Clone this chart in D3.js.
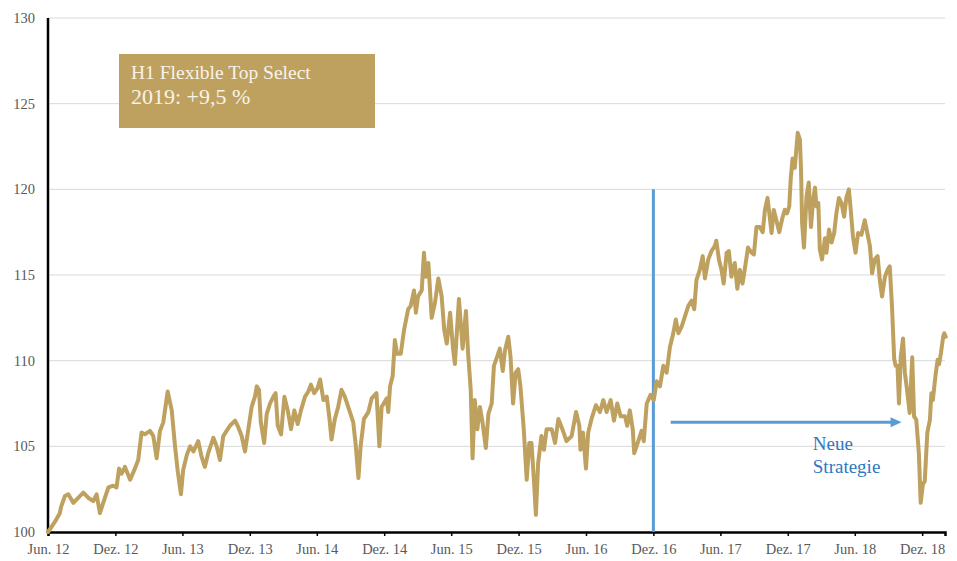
<!DOCTYPE html>
<html>
<head>
<meta charset="utf-8">
<script src="https://cdn.jsdelivr.net/npm/d3@7"></script>
<style>
  body { margin: 0; background: #fff; }
  svg { display: block; }
</style>
</head>
<body>
<div id="chart"></div>
<script>
// fund price, indexed to 100 at Jun 2012
const dates = [
  "2012-06-01","2012-06-20","2012-07-03","2012-07-07","2012-07-17","2012-07-26","2012-08-09","2012-08-18",
  "2012-09-05","2012-09-18","2012-10-02","2012-10-11","2012-10-20","2012-10-29","2012-11-12","2012-11-25",
  "2012-12-04","2012-12-11","2012-12-18","2012-12-27","2013-01-10","2013-01-23","2013-02-01","2013-02-10",
  "2013-02-19","2013-03-05","2013-03-14","2013-03-23","2013-04-01","2013-04-10","2013-04-22","2013-05-03",
  "2013-05-12","2013-05-19","2013-05-28","2013-06-03","2013-06-13","2013-06-22","2013-07-01","2013-07-14",
  "2013-07-23","2013-08-01","2013-08-10","2013-08-24","2013-09-02","2013-09-11","2013-09-20","2013-09-29",
  "2013-10-08","2013-10-22","2013-10-31","2013-11-09","2013-11-18","2013-11-27","2013-12-06","2013-12-15",
  "2013-12-20","2013-12-26","2013-12-31","2014-01-09","2014-01-16","2014-01-25","2014-02-03","2014-02-09",
  "2014-02-15","2014-02-24","2014-03-05","2014-03-14","2014-03-23","2014-04-01","2014-04-10","2014-04-19",
  "2014-04-30","2014-05-09","2014-05-16","2014-05-25","2014-06-03","2014-06-10","2014-06-19","2014-06-28",
  "2014-07-05","2014-07-11","2014-07-20","2014-07-29","2014-08-07","2014-08-16","2014-08-30","2014-09-08",
  "2014-09-15","2014-09-22","2014-09-28","2014-10-07","2014-10-19","2014-10-28","2014-11-10","2014-11-18",
  "2014-11-24","2014-12-08","2014-12-12","2014-12-17","2014-12-24","2014-12-30","2015-01-05","2015-01-15",
  "2015-01-24","2015-02-04","2015-02-11","2015-02-20","2015-02-25","2015-03-03","2015-03-13","2015-03-19",
  "2015-03-24","2015-03-31","2015-04-09","2015-04-18","2015-04-27","2015-05-06","2015-05-13","2015-05-20",
  "2015-05-29","2015-06-06","2015-06-11","2015-06-22","2015-07-02","2015-07-11","2015-07-17","2015-07-24",
  "2015-07-29","2015-08-04","2015-08-11","2015-08-18","2015-08-25","2015-09-03","2015-09-10","2015-09-19",
  "2015-09-25","2015-10-04","2015-10-11","2015-10-19","2015-10-25","2015-11-03","2015-11-09","2015-11-16",
  "2015-11-23","2015-11-30","2015-12-06","2015-12-15","2015-12-23","2015-12-30","2016-01-05","2016-01-12",
  "2016-01-17","2016-01-23","2016-02-01","2016-02-08","2016-02-15","2016-02-29","2016-03-09","2016-03-18",
  "2016-03-29","2016-04-09","2016-04-23","2016-05-05","2016-05-14","2016-05-17","2016-05-24","2016-06-01",
  "2016-06-07","2016-06-16","2016-06-28","2016-07-09","2016-07-18","2016-07-27","2016-08-07","2016-08-16",
  "2016-08-25","2016-09-03","2016-09-15","2016-09-21","2016-09-28","2016-10-06","2016-10-10","2016-10-18",
  "2016-10-30","2016-11-05","2016-11-13","2016-11-23","2016-12-02","2016-12-10","2016-12-19","2016-12-28",
  "2017-01-06","2017-01-15","2017-01-24","2017-01-31","2017-02-07","2017-02-16","2017-02-25","2017-03-06",
  "2017-03-15","2017-03-22","2017-03-28","2017-04-06","2017-04-14","2017-04-20","2017-04-29","2017-05-08",
  "2017-05-17","2017-05-21","2017-05-28","2017-06-04","2017-06-10","2017-06-18","2017-06-24","2017-07-01",
  "2017-07-10","2017-07-17","2017-07-24","2017-07-31","2017-08-06","2017-08-15","2017-08-25","2017-08-31",
  "2017-09-07","2017-09-16","2017-09-24","2017-09-30","2017-10-07","2017-10-13","2017-10-18","2017-10-24",
  "2017-10-31","2017-11-08","2017-11-16","2017-11-23","2017-11-29","2017-12-05","2017-12-09","2017-12-14",
  "2017-12-20","2017-12-28","2018-01-03","2018-01-06","2018-01-09","2018-01-14","2018-01-21","2018-01-27",
  "2018-02-02","2018-02-08","2018-02-13","2018-02-17","2018-02-22","2018-02-26","2018-03-04","2018-03-12",
  "2018-03-16","2018-03-23","2018-03-30","2018-04-06","2018-04-12","2018-04-19","2018-04-26","2018-05-03",
  "2018-05-09","2018-05-16","2018-05-21","2018-05-27","2018-06-03","2018-06-10","2018-06-19","2018-06-28",
  "2018-07-06","2018-07-12","2018-07-18","2018-07-25","2018-08-02","2018-08-08","2018-08-14","2018-08-22",
  "2018-08-29","2018-09-04","2018-09-10","2018-09-16","2018-09-20","2018-09-25","2018-09-29","2018-10-04",
  "2018-10-10","2018-10-15","2018-10-22","2018-10-28","2018-11-04","2018-11-09","2018-11-15","2018-11-22",
  "2018-11-27","2018-12-03","2018-12-08","2018-12-15","2018-12-22","2018-12-26","2018-12-30","2019-01-06",
  "2019-01-12","2019-01-16","2019-01-21","2019-01-27","2019-01-30","2019-02-03"
];
const values = [
  100.0,100.6,101.1,101.5,102.1,102.2,101.7,101.9,
  102.3,102.0,101.8,102.2,101.1,101.7,102.6,102.7,
  102.6,103.7,103.4,103.8,103.05,103.7,104.2,105.8,
  105.7,105.9,105.6,104.3,105.9,106.4,108.2,107.1,
  105.0,103.6,102.2,103.6,104.5,105.0,104.7,105.3,
  104.4,103.8,104.6,105.5,105.0,104.2,105.6,105.9,
  106.2,106.5,106.1,105.6,104.7,106.0,107.3,107.9,
  108.5,108.3,106.4,105.2,106.9,107.5,107.9,108.1,
  106.2,105.7,107.9,107.1,106.0,107.1,106.3,107.1,
  107.9,108.2,108.6,108.1,108.4,108.9,107.7,107.9,
  106.7,105.4,106.6,107.3,108.3,107.9,107.0,106.4,
  105.0,103.15,105.0,106.6,107.0,107.8,108.1,105.0,
  107.3,107.8,107.0,108.5,109.1,111.2,110.4,110.4,
  111.8,113.0,113.2,114.1,112.8,113.75,114.1,116.3,
  114.9,115.7,112.5,113.4,114.8,113.75,111.8,111.0,
  112.8,110.7,109.8,113.6,110.7,112.9,110.4,108.3,
  104.3,107.7,106.0,107.3,106.4,104.9,106.9,107.5,
  109.7,110.25,110.7,109.4,110.6,111.4,110.25,107.5,
  109.3,109.5,108.5,106.0,103.05,105.2,105.2,102.9,
  101.0,104.0,105.6,104.8,106.0,106.0,105.2,106.6,
  106.0,105.3,105.6,107.0,106.2,104.8,105.8,103.7,
  105.8,106.6,107.4,107.0,107.7,107.0,107.7,106.5,
  107.5,106.75,106.75,106.2,107.1,106.0,104.6,105.1,
  105.9,105.3,107.5,108.0,107.7,108.8,108.5,109.7,
  109.3,110.8,111.6,112.4,111.6,112.0,112.6,113.2,
  113.5,113.0,114.7,115.3,116.1,114.8,115.9,116.4,
  116.7,117.0,115.9,115.3,114.5,116.3,116.4,114.9,
  115.7,114.2,115.3,114.5,115.3,116.6,116.3,116.2,
  117.8,117.8,117.5,118.8,119.5,118.4,117.45,118.8,
  118.2,117.5,118.3,118.8,118.6,119.0,120.6,121.8,
  121.25,123.3,122.9,121.15,118.0,116.6,119.6,120.4,
  117.8,119.4,120.1,119.0,119.2,116.5,115.9,117.15,
  116.3,117.65,116.9,117.45,118.6,119.5,119.2,118.4,
  119.5,120.0,118.8,117.25,116.3,117.45,117.35,118.2,
  117.35,116.7,115.1,115.9,116.1,114.7,113.75,114.9,
  115.3,115.5,113.2,110.1,109.7,109.7,107.5,110.25,
  111.3,109.3,108.1,106.95,110.2,106.75,106.55,104.6,
  101.7,102.8,102.95,105.8,106.55,108.1,107.7,109.1,
  110.05,109.8,110.45,111.4,111.6,111.4
];

const tickDates = ["2012-06-01","2012-12-01","2013-06-01","2013-12-01","2014-06-01","2014-12-01","2015-06-01",
  "2015-12-01","2016-06-01","2016-12-01","2017-06-01","2017-12-01","2018-06-01","2018-12-01"];
const tickLabels = ["Jun. 12","Dez. 12","Jun. 13","Dez. 13","Jun. 14","Dez. 14","Jun. 15",
  "Dez. 15","Jun. 16","Dez. 16","Jun. 17","Dez. 17","Jun. 18","Dez. 18"];
const yTicks = [100, 105, 110, 115, 120, 125, 130];

const boxLines = ["H1 Flexible Top Select", "2019: +9,5 %"];
const strategyLabel = ["Neue", "Strategie"];
const strategyDate = "2016-12-01";   // vertical marker
const arrowFrom = "2017-01-17";
const arrowTo = "2018-10-06";
const arrowLevel = 106.4;
const labelDate = "2018-02-07";

const width = 957, height = 561;
const margin = { top: 18, right: 12, bottom: 29, left: 48 };
const font = "'Liberation Serif', 'Times New Roman', serif";
const gold = "#BFA15F";
const blue = "#5B9BD5";

const parse = d3.timeParse("%Y-%m-%d");
const data = dates.map((d, i) => ({ date: parse(d), value: values[i] }));

const svg = d3.select("#chart").append("svg")
  .attr("width", width)
  .attr("height", height);

const x = d3.scaleTime()
  .domain([parse("2012-06-01"), parse("2019-02-01")])
  .range([margin.left, width - margin.right]);

const y = d3.scaleLinear()
  .domain([100, 130])
  .range([height - margin.bottom, margin.top]);

// gridlines
svg.append("g")
  .selectAll("line")
  .data(yTicks.filter(t => t > 100))
  .enter().append("line")
  .attr("x1", margin.left)
  .attr("x2", width - margin.right)
  .attr("y1", d => y(d))
  .attr("y2", d => y(d))
  .attr("stroke", "#d9d9d9")
  .attr("stroke-width", 1);

// y labels
svg.append("g")
  .selectAll("text")
  .data(yTicks)
  .enter().append("text")
  .attr("x", margin.left - 13)
  .attr("y", d => y(d))
  .attr("dy", "0.35em")
  .attr("text-anchor", "end")
  .style("font-family", font)
  .style("font-size", "14.5px")
  .style("fill", "#595959")
  .text(d => d);

// x axis
const xAxis = d3.axisBottom(x)
  .tickValues(tickDates.map(parse))
  .tickFormat((d, i) => tickLabels[i])
  .tickSize(4)
  .tickPadding(8);

const gx = svg.append("g")
  .attr("transform", "translate(0," + y(100) + ")")
  .call(xAxis);
gx.select(".domain").attr("stroke", "#000").attr("stroke-width", 2.5);
gx.selectAll(".tick line").attr("stroke", "#000").attr("stroke-width", 1.5);
gx.selectAll(".tick text")
  .style("font-family", font)
  .style("font-size", "14.5px")
  .style("fill", "#595959");

// y axis line
svg.append("line")
  .attr("x1", margin.left).attr("x2", margin.left)
  .attr("y1", y(130)).attr("y2", y(100) + 1)
  .attr("stroke", "#000")
  .attr("stroke-width", 2.5);

// vertical strategy marker
svg.append("line")
  .attr("x1", x(parse(strategyDate))).attr("x2", x(parse(strategyDate)))
  .attr("y1", y(120)).attr("y2", y(100))
  .attr("stroke", blue)
  .attr("stroke-width", 3);

// price line
const line = d3.line()
  .x(d => x(d.date))
  .y(d => y(d.value));

svg.append("path")
  .datum(data)
  .attr("fill", "none")
  .attr("stroke", gold)
  .attr("stroke-width", 4)
  .attr("stroke-linejoin", "round")
  .attr("stroke-linecap", "round")
  .attr("d", line);

// arrow
const ax1 = x(parse(arrowFrom)), ax2 = x(parse(arrowTo)), ay = y(arrowLevel);
svg.append("line")
  .attr("x1", ax1).attr("x2", ax2 - 9)
  .attr("y1", ay).attr("y2", ay)
  .attr("stroke", blue)
  .attr("stroke-width", 3);
svg.append("path")
  .attr("d", "M" + ax2 + "," + ay + " L" + (ax2 - 11) + "," + (ay - 5) + " L" + (ax2 - 11) + "," + (ay + 5) + " Z")
  .attr("fill", blue);

// strategy label
svg.append("g")
  .selectAll("text")
  .data(strategyLabel)
  .enter().append("text")
  .attr("x", x(parse(labelDate)))
  .attr("y", (d, i) => y(arrowLevel) + 28 + i * 22.5)
  .style("font-family", font)
  .style("font-size", "19px")
  .style("fill", "#2E78C0")
  .text(d => d);

// info box
const box = svg.append("g").attr("transform", "translate(119,54)");
box.append("rect")
  .attr("width", 256)
  .attr("height", 74)
  .attr("fill", gold);
box.append("text")
  .attr("x", 12).attr("y", 25)
  .style("font-family", font)
  .style("font-size", "19.5px")
  .style("fill", "#F7F3EA")
  .text(boxLines[0]);
box.append("text")
  .attr("x", 12).attr("y", 50)
  .style("font-family", font)
  .style("font-size", "22px")
  .style("fill", "#F7F3EA")
  .text(boxLines[1]);
</script>
</body>
</html>
